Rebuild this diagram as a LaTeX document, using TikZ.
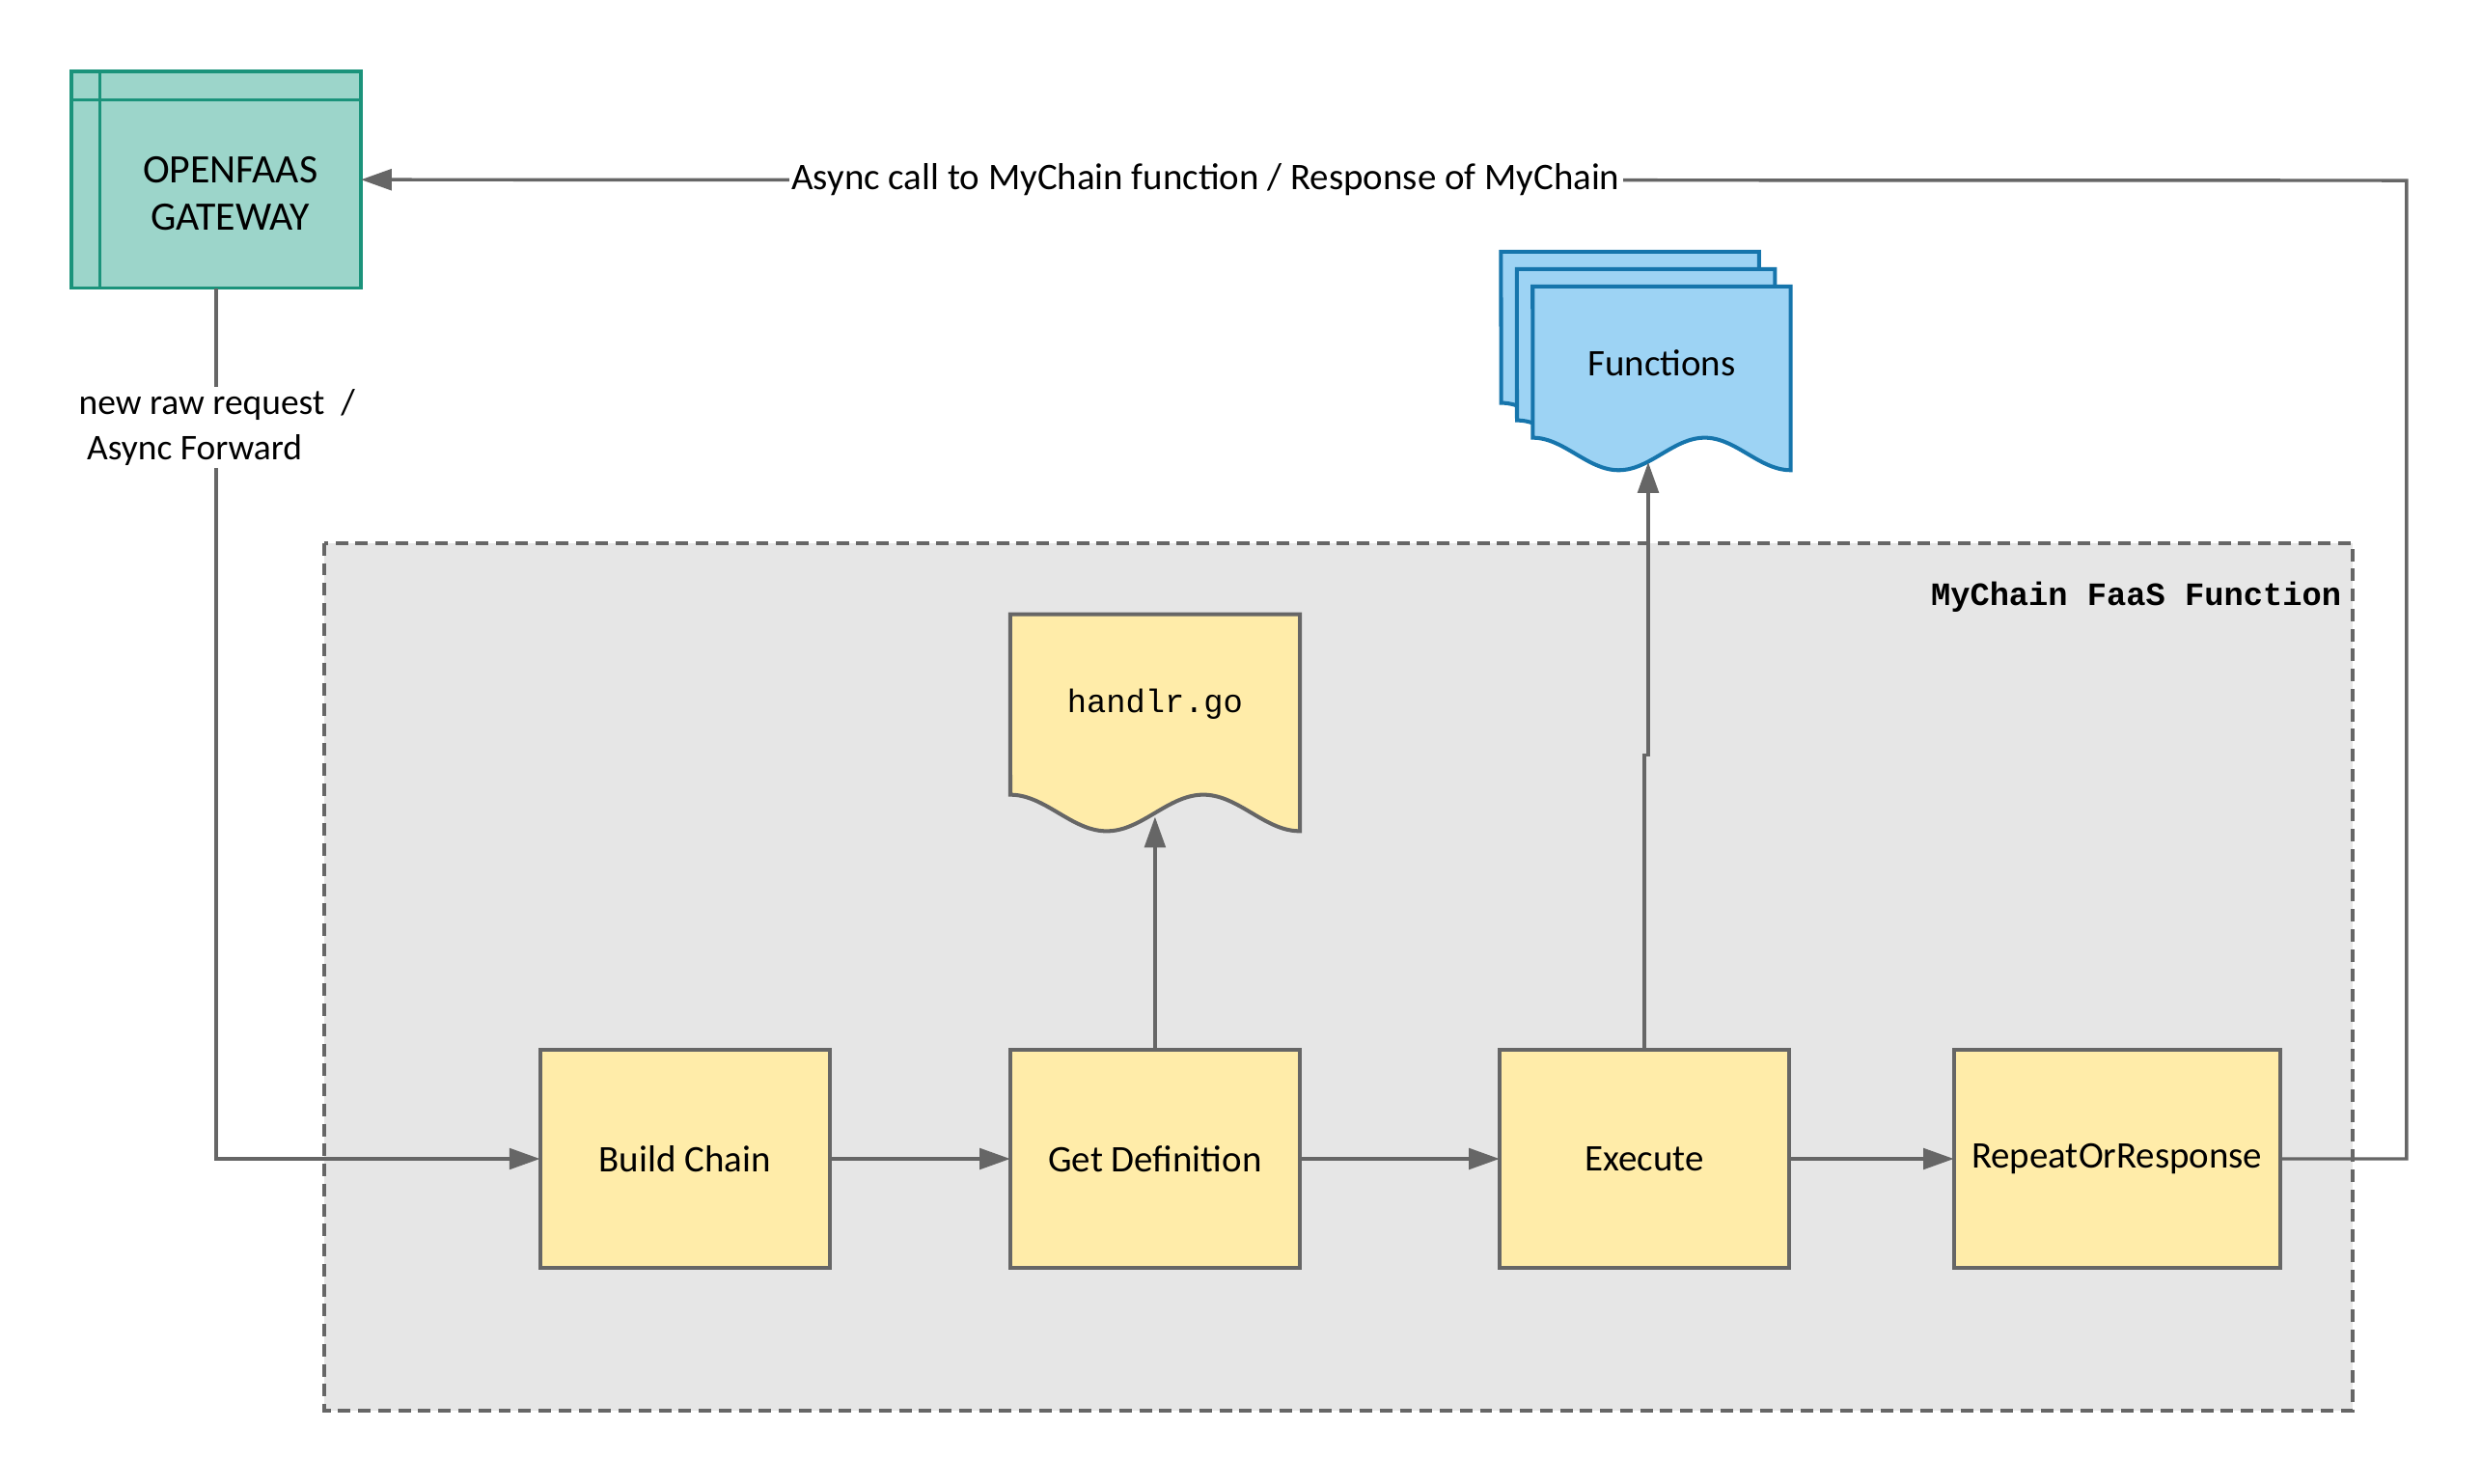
\documentclass[tikz,border=0pt]{standalone}
\usepackage{fontspec}
\setmainfont{Carlito}
\newfontfamily\codefont{Liberation Mono}
\usetikzlibrary{arrows.meta,calc}
\definecolor{boxfill}{HTML}{FFECA9}
\definecolor{grayline}{HTML}{666666}
\definecolor{contfill}{HTML}{E6E6E6}
\definecolor{gwfill}{HTML}{9CD5CA}
\definecolor{gwline}{HTML}{1B937B}
\definecolor{fnfill}{HTML}{9DD3F4}
\definecolor{fnline}{HTML}{1675AC}
\newcommand{\mydoc}[6]{%
  \filldraw[#6] (#1,#3) -- (#2,#3) -- (#2,#4) --
    plot[domain=1:0,samples=60,smooth] ({#1+\x*(#2-#1)},{#4-#5/2-#5/2*cos(540*\x)}) -- cycle;}
\begin{document}
\begin{tikzpicture}[x=0.02cm,y=-0.02cm,
  hand/.style={font=\fontsize{13.5}{16}\selectfont, text=black},
  ybox/.style={draw=grayline, fill=boxfill, line width=1.4pt, minimum width=3.66cm,
    minimum height=2.76cm, inner sep=0pt, outer sep=0pt, hand},
  conn/.style={draw=grayline, line width=1.2pt, -{Triangle[length=11pt,width=7.5pt]}},
  lbl/.style={fill=white, inner sep=1pt, hand},
  ydoc/.style={draw=grayline, fill=boxfill, line width=1.4pt},
  fdoc/.style={draw=fnline, fill=fnfill, line width=1.4pt}]
\useasboundingbox (0,0) rectangle (1567,937.4);
\fill[white] (0,0) rectangle (1567,937.4);
% container
\draw[draw=grayline, fill=contfill, line width=1.3pt, dash pattern=on 4.5pt off 2.7pt]
  (205,343) rectangle (1486,891);
\node[anchor=east, inner sep=0pt, font=\codefont\bfseries\fontsize{11.7}{14}\selectfont]
  (contlbl) at (1479,377) {MyChain FaaS Function};
% gateway
\node[draw=gwline, fill=gwfill, line width=1.3pt, minimum width=3.66cm, minimum height=2.74cm,
  inner sep=0pt, outer sep=0pt] (gw) at (136.5,113.5) {};
\draw[gwline, line width=1.3pt] ($(gw.north west)+(18,0)$) -- ($(gw.south west)+(18,0)$);
\draw[gwline, line width=1.3pt] ($(gw.north west)+(0,18)$) -- ($(gw.north east)+(0,18)$);
\node[align=center, font=\fontsize{14.5}{17}\selectfont] (gwtext) at (145.5,122) {OPENFAAS\\GATEWAY};
% boxes
\node[ybox] (bc) at (432.5,732) {Build Chain};
\node[ybox] (gd) at (729.5,732) {Get Definition};
\node[ybox] (ex) at (1038.5,732) {Execute};
\node[ybox, minimum width=4.12cm] (rep) at (1337,732) {RepeatOrResponse};
% documents
\mydoc{638}{821}{388}{525}{23}{ydoc}
\node[font=\codefont\fontsize{11.7}{14}\selectfont] (hdtext) at (729.5,445) {handlr.go};
\mydoc{948}{1111}{159}{275}{20.5}{fdoc}
\mydoc{958}{1121}{170}{286}{20.5}{fdoc}
\mydoc{968}{1131}{181}{297}{20.5}{fdoc}
\node[hand] (fntext) at (1049.5,229) {Functions};
% helper coordinates
\coordinate (hdtip) at (729.5,516);
\coordinate (fntip) at (1041,292);
\coordinate (jog) at (1038.5,477);
\coordinate (rt) at (1520,114);
% connectors
\draw[conn] (gw.south) |- (bc.west);
\node[lbl, align=left, font=\fontsize{13}{16}\selectfont] (reqlbl) at (137,270) {new raw request\ \ /\\\ Async Forward};
\draw[conn] (bc.east) -- (gd.west);
\draw[conn] (gd.north) -- (hdtip);
\draw[conn] (gd.east) -- (ex.west);
\draw[conn] (ex.east) -- (rep.west);
\draw[conn] (ex.north) -- (jog) -| (fntip);
\draw[conn] (rep.east) -| (rt) -- node[lbl, pos=0.587] (asynclbl) {Async call to MyChain function / Response of MyChain} (gw.east);
\end{tikzpicture}
\end{document}
